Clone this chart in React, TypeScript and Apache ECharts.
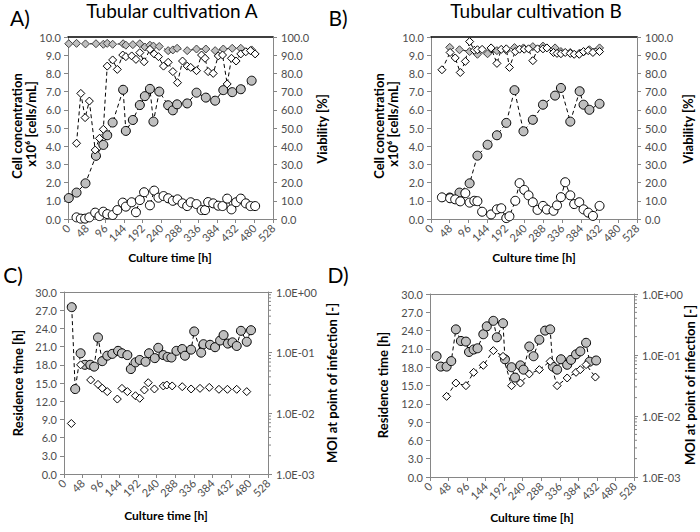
import React, { useEffect, useRef } from "react";
import * as echarts from "echarts";

// ---------- Panel A : Tubular cultivation A ----------
const aCellTime = [2, 22, 45, 72, 91, 101, 115, 142, 149, 167, 185, 198, 211, 220, 235, 258, 270, 281, 307, 331, 355, 379, 400, 423, 445, 473];
const aCellConc = [1.15, 1.45, 1.96, 3.47, 4.07, 4.6, 5.3, 7.1, 4.84, 5.44, 6.26, 6.75, 7.15, 5.35, 7.0, 6.25, 5.97, 6.3, 6.35, 6.94, 6.67, 6.5, 7.08, 6.97, 7.13, 7.6];
const aCellVia = [96.3, 96.5, 96.2, 96.3, 96.0, 96.5, 96.0, 96.3, 95.5, 95.8, 96.3, 94.5, 95.5, 95.0, 94.8, 92.5, 92.9, 93.8, 92.5, 93.4, 93.4, 92.5, 93.4, 93.8, 93.8, 92.9];
const aTubeTime = [22, 33, 44, 55, 70, 81, 91, 101, 115, 127, 141, 149, 164, 175, 185, 196, 211, 222, 233, 246, 258, 270, 282, 295, 307, 316, 331, 344, 353, 361, 374, 387, 398, 410, 421, 433, 445, 458, 470, 482];
const aTubeConc = [0.09, 0.02, 0.02, 0.09, 0.35, 0.16, 0.4, 0.27, 0.22, 0.49, 0.9, 0.68, 0.92, 0.37, 1.04, 1.47, 0.75, 1.56, 1.17, 1.26, 1.14, 1.0, 1.08, 0.86, 0.71, 0.92, 0.82, 0.49, 0.49, 0.93, 0.86, 0.73, 0.71, 1.12, 0.53, 0.92, 1.12, 0.86, 0.71, 0.71];
const aTubeVia = [41.6, 69, 55.7, 64.8, 37.9, 44.3, 49.3, 84, 87.4, 82.2, 90.1, 89.2, 89.6, 87.7, 91.4, 86.4, 93.2, 90.7, 89.2, 84, 86.1, 81, 74.9, 86.8, 84, 83.3, 81.5, 90.1, 88.3, 81, 80, 89.6, 90.1, 74.2, 88.3, 86.8, 90.7, 91.9, 92.5, 90.7];

// ---------- Panel B : Tubular cultivation B ----------
const bCellTime = [48, 73, 99, 119, 145, 169, 193, 214, 237, 261, 287, 318, 333, 357, 381, 391, 406, 432];
const bCellConc = [1.18, 1.45, 1.96, 3.48, 4.08, 4.6, 5.28, 7.08, 4.82, 5.45, 6.28, 6.78, 7.2, 5.35, 7.02, 6.28, 6.0, 6.33];
const bCellVia = [94.3, 93.0, 92.0, 90.5, 90.8, 92.5, 92.7, 94.2, 94.0, 94.7, 95.0, 94.0, 92.0, 91.5, 91.2, 91.8, 93.0, 94.0];
const bTubeTime = [28, 49, 62, 75, 88, 99, 111, 119, 131, 154, 169, 180, 193, 201, 216, 227, 239, 250, 261, 273, 287, 297, 314, 323, 333, 344, 357, 367, 380, 391, 403, 415, 432];
const bTubeConc = [1.19, 1.14, 1.08, 0.97, 1.42, 0.9, 1.0, 0.98, 0.4, 0.25, 0.53, 0.59, 0.05, 0.15, 1.0, 1.97, 1.6, 1.3, 0.92, 0.5, 0.72, 0.52, 0.45, 0.75, 1.2, 2.02, 1.3, 0.82, 0.92, 0.53, 0.35, 0.17, 0.72];
const bTubeVia = [82, 91.5, 88.5, 80.5, 86.6, 97.5, 92.7, 93, 93.2, 94, 85.5, 93.2, 93.5, 83.3, 92, 93.3, 93.3, 93.5, 87, 93.5, 93.5, 94, 91.5, 91, 90.8, 91.5, 91, 90.5, 90.5, 92, 92.5, 91.5, 92];

// ---------- Panel C ----------
const cResTime = [20, 29, 43, 54, 68, 78, 88, 99, 112, 125, 140, 150, 164, 173, 185, 196, 211, 220, 235, 244, 257, 268, 278, 291, 306, 313, 329, 337, 355, 361, 378, 391, 404, 413, 424, 436, 447, 458, 473, 484];
const cResVal = [27.5, 14.0, 19.9, 18.0, 18.0, 17.7, 22.5, 18.6, 19.5, 19.8, 20.3, 19.9, 19.6, 17.3, 18.4, 18.8, 18.5, 19.9, 19.1, 20.8, 19.6, 19.3, 19.2, 20.3, 20.6, 19.5, 20.5, 23.5, 20.0, 21.4, 21.3, 20.9, 22.0, 22.9, 21.5, 21.7, 21.1, 23.6, 21.8, 23.7];
const cMoiTime = [19, 43, 69, 88, 99, 112, 138, 150, 164, 185, 196, 208, 218, 234, 257, 266, 280, 306, 329, 352, 376, 401, 423, 447, 473];
const cMoiVal = [0.0068, 0.063, 0.0355, 0.030, 0.026, 0.0228, 0.0172, 0.0258, 0.0228, 0.0195, 0.0177, 0.0243, 0.032, 0.0252, 0.0283, 0.0293, 0.0283, 0.0275, 0.0252, 0.0258, 0.0268, 0.0249, 0.0249, 0.0249, 0.0228];

// ---------- Panel D ----------
const dResTime = [17, 28, 43, 55, 67, 80, 93, 101, 113, 123, 138, 147, 164, 173, 189, 194, 211, 220, 234, 242, 257, 268, 283, 298, 311, 318, 329, 339, 355, 365, 378, 389, 404, 413, 430];
const dResVal = [19.8, 18.1, 18.1, 19.0, 24.2, 22.3, 22.2, 20.5, 20.9, 21.1, 23.4, 24.7, 25.6, 22.9, 25.2, 19.3, 18.0, 16.3, 18.3, 17.6, 21.4, 19.8, 22.5, 24.0, 24.2, 18.1, 17.6, 19.3, 18.4, 19.2, 20.1, 20.6, 22.0, 18.9, 19.1];
const dMoiTime = [43, 67, 93, 113, 138, 164, 189, 211, 234, 257, 283, 311, 329, 355, 378, 389, 404, 428];
const dMoiVal = [0.021, 0.0347, 0.0314, 0.052, 0.0677, 0.118, 0.095, 0.0314, 0.0347, 0.0489, 0.0575, 0.0787, 0.0314, 0.042, 0.052, 0.0575, 0.0695, 0.0435];

// minor ticks of the logarithmic MOI axis
const moiMinorTicks = [0.002, 0.003, 0.004, 0.005, 0.006, 0.007, 0.008, 0.009, 0.02, 0.03, 0.04, 0.05, 0.06, 0.07, 0.08, 0.09, 0.2, 0.3, 0.4, 0.5, 0.6, 0.7, 0.8, 0.9];

const FONT = "Lato, 'Open Sans', sans-serif";
const AXIS_GRAY = "#868686";
const LABEL_GRAY = "#4d4d4d";
const GRAY_FILL = "#BFBFBF";
const TIME_MAX = 528;

const grids = [
  { left: 68, top: 37, width: 205, height: 182 },
  { left: 431, top: 37, width: 206, height: 182 },
  { left: 64, top: 292, width: 204, height: 182 },
  { left: 430, top: 294, width: 204, height: 183 },
];

const logLabel = (v: number) => {
  const e = Math.round(Math.log10(v));
  return "1.0E" + (e < 0 ? "-" : "+") + String(Math.abs(e)).padStart(2, "0");
};

function buildOption() {
  const xAxis: any[] = [];
  const yAxis: any[] = [];
  grids.forEach((g, i) => {
    xAxis.push({
      type: "value", gridIndex: i, min: 0, max: TIME_MAX, interval: 48, position: "bottom",
      axisLine: { show: true, lineStyle: { color: AXIS_GRAY, width: 1 } },
      axisTick: { show: true, length: 4, lineStyle: { color: AXIS_GRAY } },
      axisLabel: { rotate: 45, fontSize: 11, color: LABEL_GRAY, fontFamily: FONT, margin: 7 },
      splitLine: { show: false },
    });
    xAxis.push({
      type: "value", gridIndex: i, min: 0, max: TIME_MAX, position: "top",
      axisLine: { show: true, onZero: false, lineStyle: { color: i < 2 ? "#000000" : AXIS_GRAY, width: i < 2 ? 1.5 : 1 } },
      axisTick: { show: false }, axisLabel: { show: false }, splitLine: { show: false },
    });
    const top = i < 2;
    yAxis.push({
      type: "value", gridIndex: i, position: "left", min: 0, max: top ? 10 : 30, interval: top ? 1 : 3,
      axisLine: { show: true, onZero: false, lineStyle: { color: AXIS_GRAY } },
      axisTick: { show: true, length: 4, lineStyle: { color: AXIS_GRAY } },
      axisLabel: { fontSize: 11, color: LABEL_GRAY, fontFamily: FONT, margin: 7, formatter: (v: number) => v.toFixed(1) },
      splitLine: { show: false },
    });
    if (top) {
      yAxis.push({
        type: "value", gridIndex: i, position: "right", min: 0, max: 100, interval: 10,
        axisLine: { show: true, onZero: false, lineStyle: { color: AXIS_GRAY } },
        axisTick: { show: true, length: 4, lineStyle: { color: AXIS_GRAY } },
        axisLabel: { fontSize: 11, color: LABEL_GRAY, fontFamily: FONT, margin: 8, formatter: (v: number) => v.toFixed(1) },
        splitLine: { show: false },
      });
    } else {
      yAxis.push({
        type: "log", logBase: 10, gridIndex: i, position: "right", min: 0.001, max: 1, splitNumber: 3,
        axisLine: { show: true, onZero: false, lineStyle: { color: AXIS_GRAY } },
        axisTick: { show: true, length: 4, lineStyle: { color: AXIS_GRAY } },
        axisLabel: { fontSize: 11, color: LABEL_GRAY, fontFamily: FONT, margin: 8, formatter: logLabel },
        splitLine: { show: false },
      });
    }
  });

  const pts = (t: number[], v: number[]) => t.map((x, k) => [x, v[k]]);
  const ser = (p: number, right: boolean, t: number[], v: number[], symbol: string, fill: string, border: string, dashed: boolean) => ({
    type: "line",
    xAxisIndex: p * 2,
    yAxisIndex: p * 2 + (right ? 1 : 0),
    data: pts(t, v),
    symbol,
    symbolSize: symbol === "circle" ? 9 : 8,
    showSymbol: true,
    silent: true,
    itemStyle: { color: fill, borderColor: border, borderWidth: 1, opacity: 1 },
    lineStyle: dashed ? { color: "#000000", width: 1, type: [4, 3] } : { opacity: 0 },
  });

  const minorTicks = (p: number) => ({
    type: "custom",
    xAxisIndex: p * 2,
    yAxisIndex: p * 2 + 1,
    silent: true,
    clip: false,
    data: moiMinorTicks.map((v) => [TIME_MAX, v]),
    renderItem: (_params: any, api: any) => {
      const c = api.coord([api.value(0), api.value(1)]);
      return { type: "line", shape: { x1: c[0], y1: c[1], x2: c[0] + 3, y2: c[1] }, style: { stroke: AXIS_GRAY, lineWidth: 1 } };
    },
  });

  const series: any[] = [
    ser(0, false, aCellTime, aCellConc, "circle", GRAY_FILL, "#000000", true),
    ser(0, true, aCellTime, aCellVia, "diamond", GRAY_FILL, "#404040", true),
    ser(0, false, aTubeTime, aTubeConc, "circle", "#ffffff", "#000000", true),
    ser(0, true, aTubeTime, aTubeVia, "diamond", "#ffffff", "#000000", true),
    ser(1, false, bCellTime, bCellConc, "circle", GRAY_FILL, "#000000", true),
    ser(1, true, bCellTime, bCellVia, "diamond", GRAY_FILL, "#404040", true),
    ser(1, false, bTubeTime, bTubeConc, "circle", "#ffffff", "#000000", true),
    ser(1, true, bTubeTime, bTubeVia, "diamond", "#ffffff", "#000000", true),
    ser(2, false, cResTime, cResVal, "circle", GRAY_FILL, "#000000", true),
    ser(2, true, cMoiTime, cMoiVal, "diamond", "#ffffff", "#000000", false),
    ser(3, false, dResTime, dResVal, "circle", GRAY_FILL, "#000000", true),
    ser(3, true, dMoiTime, dMoiVal, "diamond", "#ffffff", "#000000", true),
    minorTicks(2),
    minorTicks(3),
  ];

  const txt = (text: string, x: number, y: number, size: number, bold: boolean, rot = 0) => ({
    type: "text",
    x, y, rotation: rot, silent: true,
    style: { text, fontSize: size, fontFamily: FONT, fontWeight: bold ? "bold" : "normal", fill: "#000000", align: "center", verticalAlign: "middle" },
  });
  const R = Math.PI / 2;
  const graphic = [
    txt("A)", 20, 17, 21, false),
    txt("Tubular cultivation A", 172, 10, 19, false),
    txt("B)", 338, 17, 21, false),
    txt("Tubular cultivation B", 536, 10, 19, false),
    txt("C)", 13, 274, 21, false),
    txt("D)", 338, 274, 21, false),
    txt("Cell concentration", 17, 126, 13, true, R),
    txt("x10\u2076 [cells/mL]", 31, 124, 13, true, R),
    txt("Viability [%]", 322, 129, 13, true, R),
    txt("Cell concentration", 379, 126, 13, true, R),
    txt("x10\u2076 [cells/mL]", 393, 124, 13, true, R),
    txt("Viability [%]", 688, 129, 13, true, R),
    txt("Culture time [h]", 170, 257, 12, true),
    txt("Culture time [h]", 534, 257, 12, true),
    txt("Residence time [h]", 18, 383, 13, true, R),
    txt("MOI at point of infection [-]", 332, 383, 13, true, R),
    txt("Residence time [h]", 383, 385, 13, true, R),
    txt("MOI at point of infection [-]", 690, 385, 13, true, R),
    txt("Culture time [h]", 166, 515, 12, true),
    txt("Culture time [h]", 532, 517, 12, true),
  ];

  return {
    animation: false,
    backgroundColor: "#ffffff",
    textStyle: { fontFamily: FONT },
    grid: grids.map((g) => ({ ...g, containLabel: false, outerBoundsMode: "none", show: false })),
    xAxis,
    yAxis,
    series,
    graphic,
  };
}

export default function App() {
  const ref = useRef<HTMLDivElement>(null);
  useEffect(() => {
    if (!ref.current) return;
    const chart = echarts.init(ref.current, undefined, { renderer: "svg" });
    chart.setOption(buildOption() as any);
    return () => chart.dispose();
  }, []);
  return (
    <div
      ref={ref}
      style={{ position: "fixed", left: 0, top: 0, width: 700, height: 532, background: "#ffffff" }}
    />
  );
}
